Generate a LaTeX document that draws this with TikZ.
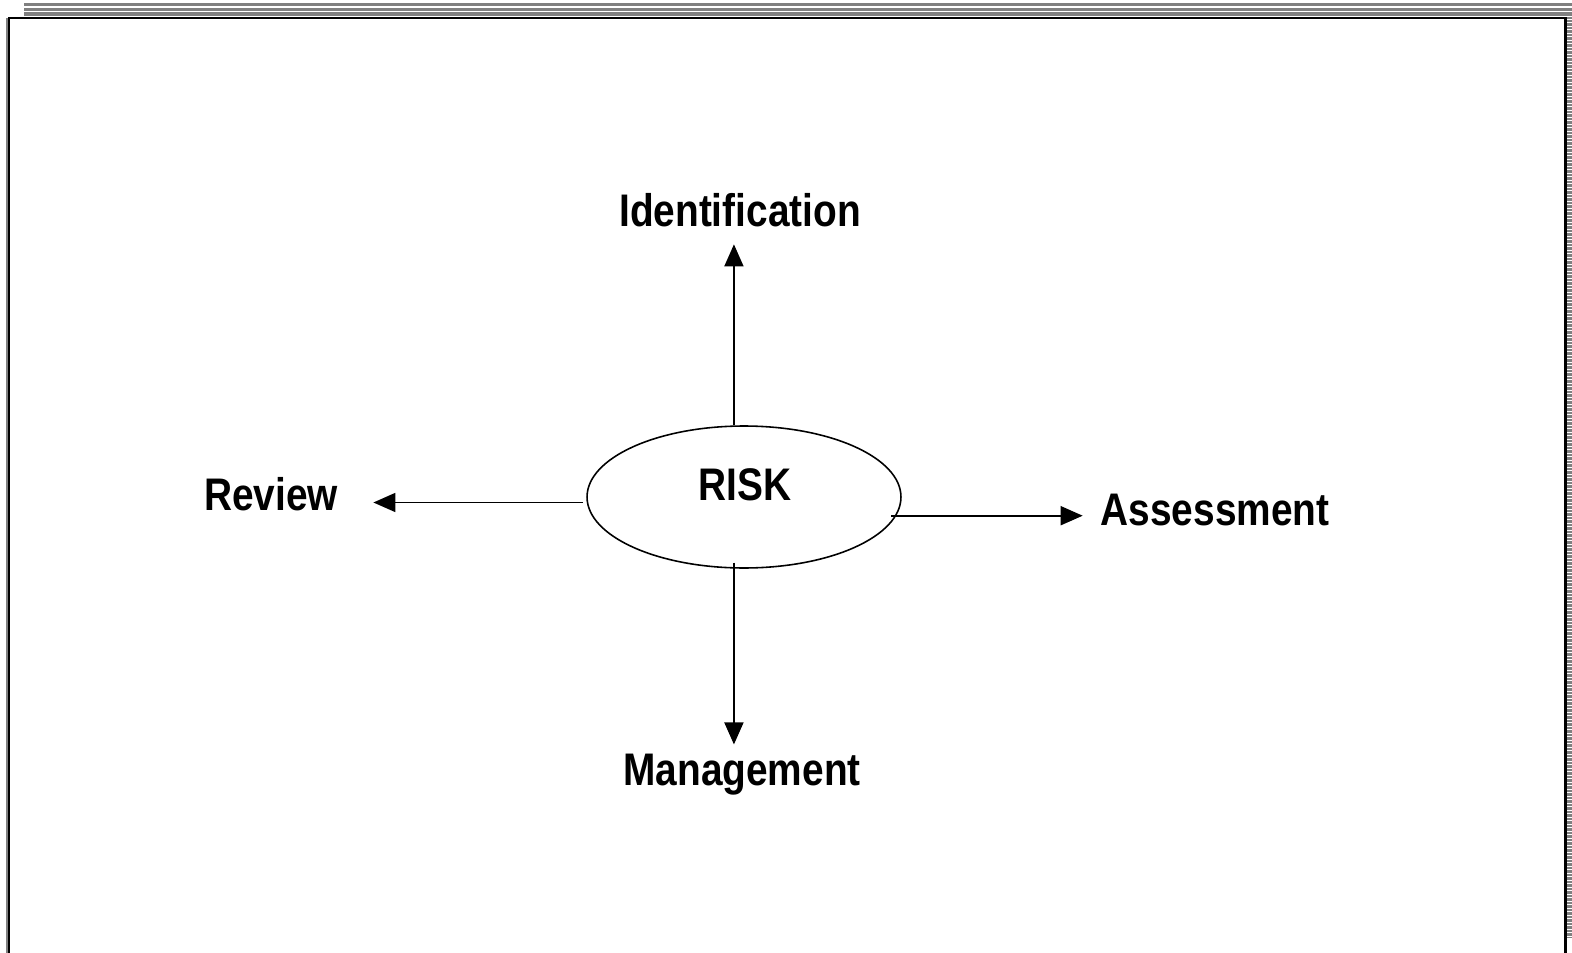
\documentclass[tikz,border=0pt]{standalone}
\usepackage{fontspec}
\usepackage{xcolor}
\usetikzlibrary{shapes.geometric,arrows.meta}
\newfontfamily\narrowsf{Liberation Sans}[FakeStretch=0.85]
\definecolor{rulegray}{HTML}{808080}

\begin{document}
\begin{tikzpicture}[
  x=0.02cm, y=-0.02cm,
  riskshape/.style={
    draw, ellipse, line width=0.9pt,
    minimum width=6.28cm, minimum height=2.84cm, inner sep=0pt
  },
  lbl/.style={
    font=\narrowsf\fontsize{26}{30}\selectfont\bfseries,
    inner sep=10pt
  },
  arr/.style={-{Triangle[length=12.5pt, width=10.8pt]}, line width=0.95pt},
  frame/.style={line width=1.7pt},
]
\useasboundingbox (0,0) rectangle (1572,953);

% page frame
\fill[rulegray] (24,3) rectangle (1572,6.5);
\fill[rulegray] (24,8) rectangle (1572,10.7);
\fill[rulegray] (24,12.3) rectangle (1572,16);
\fill[rulegray] (1567,17) rectangle (1572,938);
\foreach \y in {19,22.5,...,936}
  \draw[white, line width=0.5pt] (1567,\y) -- (1572,\y);
\draw[rulegray, line width=0.8pt] (7,18) -- (7,953);
\draw[frame] (9,953) -- (9,18) -- (1565.5,18) -- (1565.5,953);

\node[riskshape] (risk) at (744,497) {};
\node[lbl] (risktext) at (745,485) {RISK};
\node[lbl, anchor=base] (ident)  at (740,226)  {Identification};
\node[lbl, anchor=base] (review) at (271,510)  {Review};
\node[lbl, anchor=base] (assess) at (1215,525) {Assessment};
\node[lbl, anchor=base] (mgmt)   at (742,785)  {Management};

\draw[arr] (risk.98) -- (risk.98 |- ident.south);
\draw[arr, shorten <=-3.4pt, shorten >=-5pt] (risk.262) -- (risk.262 |- mgmt.north);
\draw[arr, shorten <=2pt, shorten >=10pt] (risk.182) -- (risk.182 -| review.east);
\draw[arr, shorten <=-3pt] (risk.-7) -- (risk.-7 -| assess.west);
\end{tikzpicture}
\end{document}
